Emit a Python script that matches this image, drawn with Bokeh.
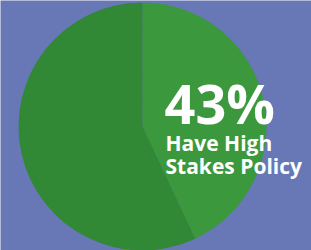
import numpy as np
from bokeh.plotting import figure
from bokeh.models import Range1d, ColumnDataSource
from bokeh.core.properties import value
from bokeh.embed import file_html
from bokeh.resources import INLINE

categories = ["Have High Stakes Policy", "Other"]
shares = [43, 57]
colors = ["#3C983D", "#318835"]
headline = "43%"
label_lines = ["Have High", "Stakes Policy"]

W, H = 311, 250
p = figure(width=W, height=H, output_backend="svg", toolbar_location=None,
           x_range=Range1d(0, W), y_range=Range1d(0, H), min_border=0)
p.axis.visible = False
p.grid.visible = False
p.outline_line_color = None
bg = "#6877B6"
p.background_fill_color = bg
p.border_fill_color = bg

frac = np.array(shares) / sum(shares)
ends = 2 * np.pi * np.cumsum(frac)
starts = ends - 2 * np.pi * frac
# clockwise from top
start_angle = np.pi / 2 - ends
end_angle = np.pi / 2 - starts
src = ColumnDataSource(dict(cat=categories, start=start_angle, end=end_angle, color=colors))
p.wedge(x=142, y=124, radius=124, start_angle="start", end_angle="end",
        fill_color="color", line_color=None, source=src)

p.text(x=[164], y=[148], text=[headline], text_color="white",
       text_font=value("Open Sans"), text_font_style="bold",
       text_font_size="54px", text_baseline="alphabetic")
p.text(x=[165, 165], y=[108, 85], text=label_lines, text_color="white",
       text_font=value("Open Sans"), text_font_style="bold",
       text_font_size="21px", text_baseline="alphabetic")

open("out.html", "w").write(file_html(p, INLINE))
